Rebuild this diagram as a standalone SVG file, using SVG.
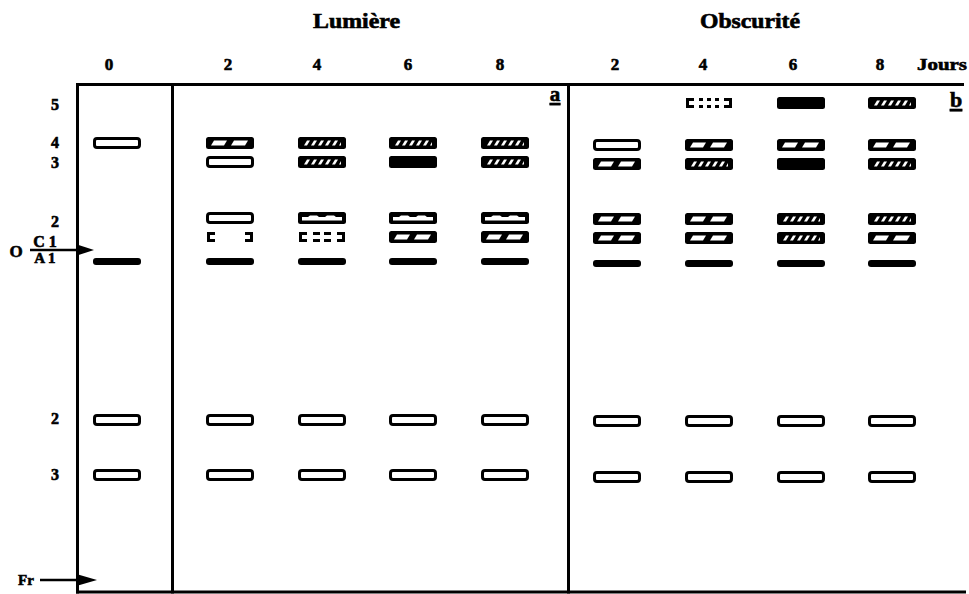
<svg xmlns="http://www.w3.org/2000/svg" xmlns:xlink="http://www.w3.org/1999/xlink" width="969" height="594" viewBox="0 0 969 594">
<style>
.t{font-family:"Liberation Serif","Times New Roman",serif;font-weight:bold;fill:#000;stroke:#000;stroke-width:0.6}
.num{font-size:17px;text-anchor:middle}
.ttl{font-size:20px}
.lbl{font-size:16px;text-anchor:middle}
.frame{stroke:#000;stroke-width:3;fill:none}
.arr{stroke:#000;stroke-width:2.5;fill:none}
</style>
<defs>
<g id="open"><rect x="1.5" y="1.5" width="45" height="9" rx="2.5" fill="#fff" stroke="#000" stroke-width="3"/></g>
<g id="solid"><rect width="48" height="12" rx="2.5" fill="#000"/></g>
<g id="thin"><rect width="48" height="7" rx="3" fill="#000"/></g>
<g id="hatch"><rect width="48" height="12" rx="2.5" fill="#000"/>
<g fill="#fff"><polygon points="9,3.5 12,3.5 9,8.5 6,8.5"/><polygon points="16,3.5 19,3.5 16,8.5 13,8.5"/><polygon points="23,3.5 26,3.5 23,8.5 20,8.5"/><polygon points="30,3.5 33,3.5 30,8.5 27,8.5"/><polygon points="37,3.5 40,3.5 37,8.5 34,8.5"/><polygon points="43,5 43,8.5 41,8.5"/></g></g>
<g id="broken"><rect width="48" height="12" rx="2.5" fill="#000"/>
<g fill="#fff"><polygon points="8,3.5 21,3.5 18,8.5 5,8.5"/><polygon points="28,3.5 42,3.5 39,8.5 25,8.5"/></g></g>
<g id="wavy"><rect width="48" height="12" rx="2.5" fill="#000"/>
<path fill="#fff" d="M4,5 H10 L12,3.5 H19 L21,5 H27 L29,3.5 H36 L38,5 H44 V8.5 H4 Z"/></g>
<g id="bracket" fill="#000"><path d="M1,1 H9 V4 H4 V8 H9 V11 H1 Z"/><path d="M47,1 H39 V4 H44 V8 H39 V11 H47 Z"/></g>
<g id="dashbracket" fill="#000"><path d="M1,1 H9 V4 H4 V8 H9 V11 H1 Z"/><path d="M47,1 H39 V4 H44 V8 H39 V11 H47 Z"/>
<rect x="15" y="1" width="7" height="3"/><rect x="15" y="8" width="7" height="3"/><rect x="26" y="1" width="7" height="3"/><rect x="26" y="8" width="7" height="3"/></g>
<g id="dotbracket" fill="#000"><path d="M1,1 H9 V4 H4 V8 H9 V11 H1 Z"/><path d="M47,1 H39 V4 H44 V8 H39 V11 H47 Z"/>
<rect x="14" y="1" width="4" height="3"/><rect x="14" y="8" width="4" height="3"/><rect x="22" y="1" width="4" height="3"/><rect x="22" y="8" width="4" height="3"/><rect x="30" y="1" width="4" height="3"/><rect x="30" y="8" width="4" height="3"/></g>
</defs>
<rect width="969" height="594" fill="#fff"/>

<g id="titles">
<text class="t ttl" x="313" y="28" textLength="87" lengthAdjust="spacingAndGlyphs">Lumière</text>
<text class="t ttl" x="700" y="28" textLength="100" lengthAdjust="spacingAndGlyphs">Obscurité</text>
</g>
<g id="columns">
<text class="t num" x="109" y="70">0</text>
<text class="t num" x="228" y="70">2</text>
<text class="t num" x="317" y="70">4</text>
<text class="t num" x="408" y="70">6</text>
<text class="t num" x="500" y="70">8</text>
<text class="t num" x="615" y="70">2</text>
<text class="t num" x="703" y="70">4</text>
<text class="t num" x="793" y="70">6</text>
<text class="t num" x="880" y="70">8</text>
<text class="t" x="917" y="70" font-size="17" textLength="50" lengthAdjust="spacingAndGlyphs">Jours</text>
</g>
<g id="rowlabels">
<text class="t lbl" x="55" y="110">5</text>
<text class="t lbl" x="55" y="148">4</text>
<text class="t lbl" x="55" y="168">3</text>
<text class="t lbl" x="55" y="227">2</text>
<text class="t lbl" x="55" y="424">2</text>
<text class="t lbl" x="55" y="480">3</text>
<text class="t" x="16" y="257" font-size="17" text-anchor="middle">O</text>
<text class="t" x="45" y="247" font-size="16" text-anchor="middle">C 1</text>
<text class="t" x="45" y="263" font-size="15" text-anchor="middle">A 1</text>
<text class="t" x="26" y="585" font-size="15" text-anchor="middle">Fr</text>
<text class="t" x="555" y="101" font-size="21" text-anchor="middle" text-decoration="underline">a</text>
<text class="t" x="956" y="107" font-size="22" text-anchor="middle" text-decoration="underline">b</text>
</g>

<g id="frame">
<line class="frame" x1="76" y1="84.5" x2="964" y2="84.5"/>
<line class="frame" x1="76" y1="592" x2="966" y2="592"/>
<line class="frame" x1="77.5" y1="83" x2="77.5" y2="593.5"/>
<line class="frame" x1="172.5" y1="83" x2="172.5" y2="593.5"/>
<line class="frame" x1="568.5" y1="83" x2="568.5" y2="593.5"/>
</g>

<g id="connectors">
<line class="arr" x1="30" y1="250" x2="80" y2="250"/>
<polygon points="77,244.5 94,250 77,255.5" fill="#000"/>
<line class="arr" x1="40" y1="580" x2="80" y2="580"/>
<polygon points="78,574.5 97,580 78,585.5" fill="#000"/>
</g>

<g id="lane-0">
<use xlink:href="#open" x="93" y="137"/>
<use xlink:href="#thin" x="93" y="258"/>
<use xlink:href="#open" x="93" y="414"/>
<use xlink:href="#open" x="93" y="469"/>
</g>
<g id="lane-L2">
<use xlink:href="#broken" x="206" y="137"/>
<use xlink:href="#open" x="206" y="156"/>
<use xlink:href="#open" x="206" y="212"/>
<use xlink:href="#bracket" x="206" y="231"/>
<use xlink:href="#thin" x="206" y="258"/>
<use xlink:href="#open" x="206" y="414"/>
<use xlink:href="#open" x="206" y="469"/>
</g>
<g id="lane-L4">
<use xlink:href="#hatch" x="298" y="137"/>
<use xlink:href="#hatch" x="298" y="156"/>
<use xlink:href="#wavy" x="298" y="212"/>
<use xlink:href="#dashbracket" x="298" y="231"/>
<use xlink:href="#thin" x="298" y="258"/>
<use xlink:href="#open" x="298" y="414"/>
<use xlink:href="#open" x="298" y="469"/>
</g>
<g id="lane-L6">
<use xlink:href="#hatch" x="389" y="137"/>
<use xlink:href="#solid" x="389" y="156"/>
<use xlink:href="#wavy" x="389" y="212"/>
<use xlink:href="#broken" x="389" y="231"/>
<use xlink:href="#thin" x="389" y="258"/>
<use xlink:href="#open" x="389" y="414"/>
<use xlink:href="#open" x="389" y="469"/>
</g>
<g id="lane-L8">
<use xlink:href="#hatch" x="481" y="137"/>
<use xlink:href="#hatch" x="481" y="156"/>
<use xlink:href="#wavy" x="481" y="212"/>
<use xlink:href="#broken" x="481" y="231"/>
<use xlink:href="#thin" x="481" y="258"/>
<use xlink:href="#open" x="481" y="414"/>
<use xlink:href="#open" x="481" y="469"/>
</g>
<g id="lane-O2">
<use xlink:href="#open" x="593" y="139"/>
<use xlink:href="#broken" x="593" y="158"/>
<use xlink:href="#broken" x="593" y="213"/>
<use xlink:href="#broken" x="593" y="232"/>
<use xlink:href="#thin" x="593" y="260"/>
<use xlink:href="#open" x="593" y="415"/>
<use xlink:href="#open" x="593" y="471"/>
</g>
<g id="lane-O4">
<use xlink:href="#dotbracket" x="685" y="97"/>
<use xlink:href="#broken" x="685" y="139"/>
<use xlink:href="#hatch" x="685" y="158"/>
<use xlink:href="#broken" x="685" y="213"/>
<use xlink:href="#broken" x="685" y="232"/>
<use xlink:href="#thin" x="685" y="260"/>
<use xlink:href="#open" x="685" y="415"/>
<use xlink:href="#open" x="685" y="471"/>
</g>
<g id="lane-O6">
<use xlink:href="#solid" x="777" y="97"/>
<use xlink:href="#broken" x="777" y="139"/>
<use xlink:href="#solid" x="777" y="158"/>
<use xlink:href="#hatch" x="777" y="213"/>
<use xlink:href="#hatch" x="777" y="232"/>
<use xlink:href="#thin" x="777" y="260"/>
<use xlink:href="#open" x="777" y="415"/>
<use xlink:href="#open" x="777" y="471"/>
</g>
<g id="lane-O8">
<use xlink:href="#hatch" x="868" y="97"/>
<use xlink:href="#broken" x="868" y="139"/>
<use xlink:href="#hatch" x="868" y="158"/>
<use xlink:href="#hatch" x="868" y="213"/>
<use xlink:href="#broken" x="868" y="232"/>
<use xlink:href="#thin" x="868" y="260"/>
<use xlink:href="#open" x="868" y="415"/>
<use xlink:href="#open" x="868" y="471"/>
</g>
</svg>
